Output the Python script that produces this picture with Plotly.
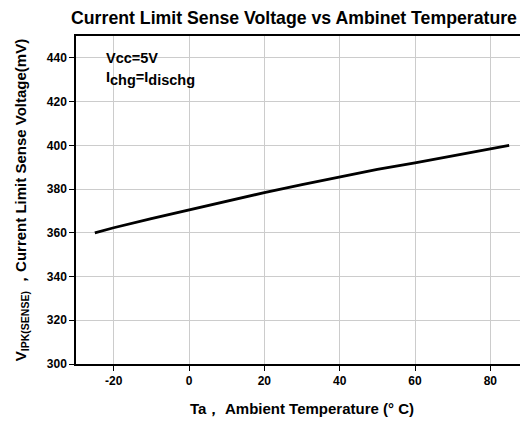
import plotly.graph_objects as go

temperature_c = [-25, -20, -10, 0, 10, 20, 30, 40, 50, 60, 70, 80, 85]
sense_voltage_mv = [360, 362.3, 366.5, 370.5, 374.5, 378.4, 382, 385.5, 389, 392, 395.2, 398.2, 400]

x_ticks = [-20, 0, 20, 40, 60, 80]
y_ticks = [300, 320, 340, 360, 380, 400, 420, 440]

FONT = "Liberation Sans, Arial, sans-serif"

# page has an 8px body margin, so the figure is made 8px smaller
W, H = 520, 413

fig = go.Figure()
fig.add_trace(go.Scatter(
    x=temperature_c, y=sense_voltage_mv, mode="lines",
    line=dict(color="black", width=2.8), showlegend=False, hoverinfo="skip"))

fig.update_layout(
    width=W, height=H,
    margin=dict(l=68, r=0, t=28, b=57, autoexpand=False),
    paper_bgcolor="white", plot_bgcolor="white",
    font=dict(family=FONT, color="black"),
    title=dict(text="<b>Current Limit Sense Voltage vs Ambinet Temperature</b>",
               x=286 / W, xref="container", xanchor="center",
               y=1 - 10 / H, yref="container", yanchor="middle",
               font=dict(size=17.7, family=FONT, color="black")),
)

fig.update_xaxes(
    range=[-30, 90], tickvals=x_ticks, ticktext=[f"<b>{v}</b>" for v in x_ticks],
    showgrid=True, gridcolor="#cccccc", gridwidth=1,
    showline=True, linecolor="black", linewidth=1.5, mirror=True,
    ticks="outside", ticklen=5, tickcolor="black",
    tickfont=dict(size=12, family=FONT, color="black"),
    zeroline=False, automargin=False,
    title=dict(text="<b>Ta， Ambient Temperature (° C)</b>", standoff=16,
               font=dict(size=15, family=FONT, color="black")),
)
fig.update_yaxes(
    range=[300, 450], tickvals=y_ticks, ticktext=[f"<b>{v}</b>" for v in y_ticks],
    showgrid=True, gridcolor="#cccccc", gridwidth=1,
    showline=True, linecolor="black", linewidth=1.5, mirror=True,
    ticks="outside", ticklen=5, tickcolor="black",
    tickfont=dict(size=12, family=FONT, color="black"),
    zeroline=False, automargin=False,
    title=dict(text="<b>V<sub>IPK(SENSE)</sub> ，Current Limit Sense Voltage(mV)</b>", standoff=17,
               font=dict(size=15, family=FONT, color="black")),
)

fig.add_annotation(
    x=-22.7, y=444.5, xref="x", yref="y", xanchor="left", yanchor="top",
    text=("<b>Vcc=5V<br>I<sub><span style='font-size:14.5px'>chg</span></sub>"
          "=I<sub><span style='font-size:14.5px'>dischg</span></sub></b>"),
    align="left", showarrow=False, font=dict(size=14.5, family=FONT, color="black"))

fig.write_html("out.html")
